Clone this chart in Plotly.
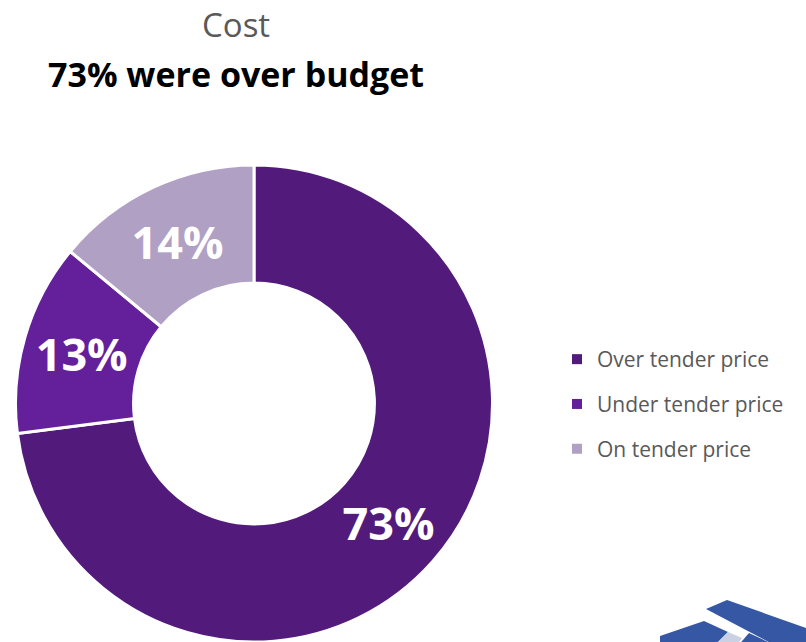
import plotly.graph_objects as go

# Cost outcome shares (percent of projects)
labels = ["Over tender price", "Under tender price", "On tender price"]
values = [73, 13, 14]
colors = ["#521b7b", "#63209a", "#afa0c4"]

title_line = "Cost"
subtitle_line = "73% were over budget"

W, H = 806, 642
FONT = "Open Sans"


def px(x, y):
    """Pixel position -> paper coordinates (margins are zero)."""
    return x / W, 1 - y / H


def path(points):
    pts = [px(x, y) for x, y in points]
    return "M" + " L".join(f"{a:.5f},{b:.5f}" for a, b in pts) + " Z"


fig = go.Figure()

# Donut: domain runs from the page bottom up to the top of the ring
cx, top = 254, 165
r = (H - top) / 2
fig.add_trace(go.Pie(
    labels=labels,
    values=values,
    sort=False,
    direction="clockwise",
    rotation=0,
    hole=0.505,
    marker=dict(colors=colors, line=dict(color="white", width=3)),
    texttemplate="%{value}%",
    textposition="inside",
    insidetextorientation="horizontal",
    insidetextfont=dict(family=FONT, size=45, color="white", weight=700),
    showlegend=False,
    hoverinfo="label+percent",
    domain=dict(x=[(cx - r - 1) / W, (cx + r + 1) / W], y=[0, 1 - top / H]),
))

# Legend entries (square swatches), one group each for spacing control
for i, (lab, col) in enumerate(zip(labels, colors)):
    fig.add_trace(go.Scatter(
        x=[None], y=[None], mode="markers", name=lab,
        marker=dict(symbol="square", size=10, color=col),
        legendgroup=f"g{i}", showlegend=True,
    ))

fig.update_layout(
    width=W, height=H,
    margin=dict(l=0, r=0, t=0, b=0),
    paper_bgcolor="white", plot_bgcolor="white",
    xaxis=dict(visible=False), yaxis=dict(visible=False),
    legend=dict(
        x=557 / W, y=1 - 339 / H, xanchor="left", yanchor="top",
        font=dict(family=FONT, size=21, color="#595959"),
        tracegroupgap=14.5,
        bgcolor="rgba(0,0,0,0)",
    ),
    annotations=[
        dict(text=title_line, x=236 / W, y=1 - 25 / H, xref="paper", yref="paper",
             showarrow=False, xanchor="center", yanchor="middle",
             font=dict(family=FONT, size=33, color="#595959")),
        dict(text=f"<b>{subtitle_line}</b>", x=236 / W, y=1 - 74 / H, xref="paper", yref="paper",
             showarrow=False, xanchor="center", yanchor="middle",
             font=dict(family=FONT, size=34, color="#000000")),
    ],
    shapes=[
        dict(type="path", xref="paper", yref="paper", line=dict(width=0), fillcolor="#3658a4",
             path=path([(706, 609), (727, 600), (806, 628), (806, 648), (780, 648)])),
        dict(type="path", xref="paper", yref="paper", line=dict(width=0), fillcolor="#3658a4",
             path=path([(660, 648), (660, 636), (704, 621), (728, 632), (712, 648)])),
        dict(type="path", xref="paper", yref="paper", line=dict(width=0), fillcolor="#c9d1e3",
             path=path([(712, 648), (728, 632), (742, 638), (735, 648)])),
        dict(type="path", xref="paper", yref="paper", line=dict(width=0), fillcolor="#3658a4",
             path=path([(736, 648), (749, 633), (768, 642), (766, 648)])),
    ],
)

fig.write_html("out.html")
